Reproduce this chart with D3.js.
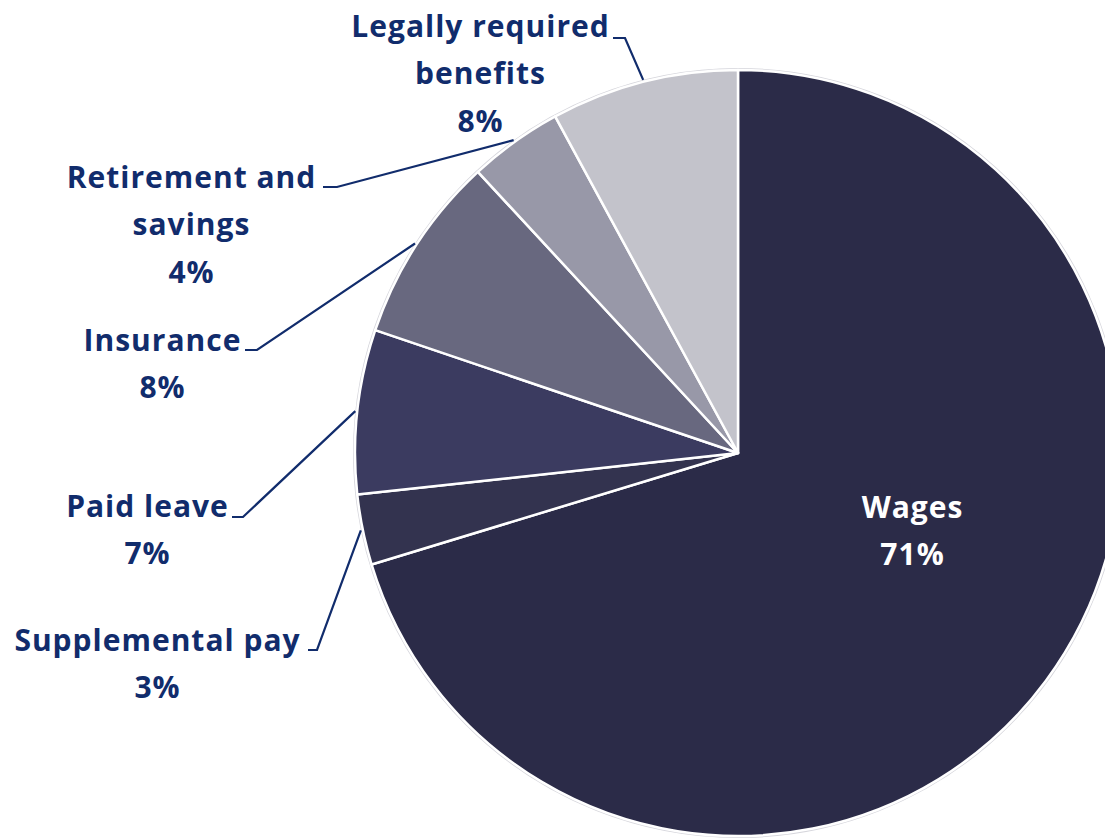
<!DOCTYPE html>
<html>
<head>
<meta charset="utf-8">
<script src="https://cdn.jsdelivr.net/npm/d3@7"></script>
<style>
  body { margin: 0; background: #fff; }
  text { font-family: "Open Sans", Lato, sans-serif; font-weight: 700; }
</style>
</head>
<body>
<div id="content"></div>
<script>
// datos
var categories = ["Wages", "Supplemental pay", "Paid leave", "Insurance", "Retirement and savings", "Legally required benefits"];
var values = [71, 3, 7, 8, 4, 8];
var labelLines = [["Wages"], ["Supplemental pay"], ["Paid leave"], ["Insurance"], ["Retirement and", "savings"], ["Legally required", "benefits"]];

// colores
var palette = ["#2b2b48", "#33334f", "#3b3b60", "#68687f", "#9898a8", "#c3c3cb"];

// posiciones de las etiquetas (centro del texto, y del primer renglon) y codo de la linea
var labelLayout = [
  { x: 912, y: 507, elbow: null },
  { x: 157, y: 640, elbow: [308, 317, 650] },
  { x: 147, y: 506, elbow: [232, 243, 517] },
  { x: 162, y: 340, elbow: [245, 257, 350] },
  { x: 191, y: 177, elbow: [323, 337, 187] },
  { x: 480, y: 26, elbow: [613, 625, 38] }
];

var width = 1105;
var height = 838;
var cx = 738, cy = 453, radius = 383;
var lineH = 47.5;
var navy = "#112c6c";

var svg = d3.select("#content")
  .append("svg")
  .attr("width", width)
  .attr("height", height);

var data = categories.map(function(c, i) {
  return { name: c, value: values[i], lines: labelLines[i], i: i };
});

var pie = d3.pie()
  .sort(null)
  .value(function(d) { return d.value; });

var arc = d3.arc().innerRadius(0).outerRadius(radius);
var edgeArc = d3.arc().innerRadius(radius + 2).outerRadius(radius + 2);

var color = d3.scaleOrdinal().domain(categories).range(palette);

var g = svg.append("g")
  .attr("transform", "translate(" + cx + "," + cy + ")");

// halo suave alrededor
g.append("circle")
  .attr("r", radius + 1)
  .attr("fill", "none")
  .attr("stroke", "#d6d6dc")
  .attr("stroke-width", 2);

var arcs = pie(data);

g.selectAll("path.slice")
  .data(arcs)
  .enter().append("path")
  .attr("class", "slice")
  .attr("d", arc)
  .attr("fill", function(d) { return color(d.data.name); })
  .attr("stroke", "#fff")
  .attr("stroke-width", 2.5)
  .attr("stroke-linejoin", "round");

// lineas guia
arcs.forEach(function(d) {
  var lay = labelLayout[d.data.i];
  if (!lay.elbow) return;
  var p = edgeArc.centroid(d);
  var e = lay.elbow;
  svg.append("polyline")
    .attr("points", [[e[0], e[2]], [e[1], e[2]], [cx + p[0], cy + p[1]]].map(function(q) { return q.join(","); }).join(" "))
    .attr("fill", "none")
    .attr("stroke", navy)
    .attr("stroke-width", 2.2);
});

// etiquetas
arcs.forEach(function(d) {
  var lay = labelLayout[d.data.i];
  var inside = !lay.elbow;
  var lines = d.data.lines.concat([Math.round(d.data.value) + "%"]);
  var t = svg.append("text")
    .attr("text-anchor", "middle")
    .attr("fill", inside ? "#ffffff" : navy)
    .style("font-size", "30px")
    .style("letter-spacing", "1px");
  lines.forEach(function(l, k) {
    t.append("tspan")
      .attr("x", lay.x + 0.5)
      .attr("y", lay.y + k * lineH)
      .attr("dy", "0.35em")
      .text(l);
  });
});
</script>
</body>
</html>
